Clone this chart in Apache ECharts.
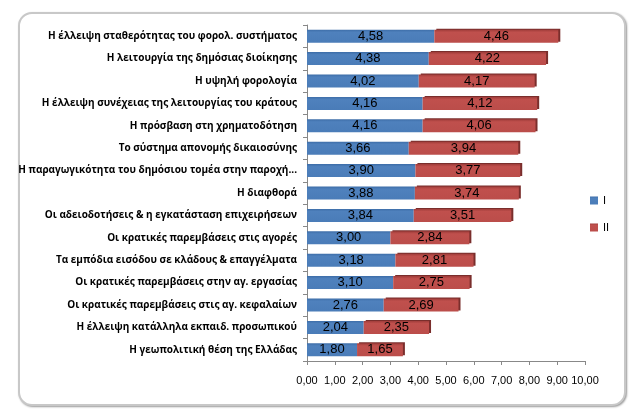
<!DOCTYPE html>
<html><head><meta charset="utf-8">
<script src="https://cdn.jsdelivr.net/npm/echarts@6/dist/echarts.min.js"></script>
<style>html,body{margin:0;padding:0;background:#fff}
#frame{position:absolute;left:18px;top:12px;width:604px;height:390px;border:2px solid #c8c8c8;border-radius:14px;box-shadow:1px 1px 2px #999;background:#fff}
#c{position:absolute;left:0;top:0;width:640px;height:417px}</style>
</head><body><div id="frame"></div><div id="c"></div>
<script>
const categories = [
 "Η έλλειψη σταθερότητας του φορολ. συστήματος",
 "Η λειτουργία της δημόσιας διοίκησης",
 "Η υψηλή φορολογία",
 "Η έλλειψη συνέχειας της λειτουργίας του κράτους",
 "Η πρόσβαση στη χρηματοδότηση",
 "Το σύστημα απονομής δικαιοσύνης",
 "Η παραγωγικότητα του δημόσιου τομέα στην παροχή...",
 "Η διαφθορά",
 "Οι αδειοδοτήσεις & η εγκατάσταση επιχειρήσεων",
 "Οι κρατικές παρεμβάσεις στις αγορές",
 "Τα εμπόδια εισόδου σε κλάδους & επαγγέλματα",
 "Οι κρατικές παρεμβάσεις στην αγ. εργασίας",
 "Οι κρατικές παρεμβάσεις στις αγ. κεφαλαίων",
 "Η έλλειψη κατάλληλα εκπαιδ. προσωπικού",
 "Η γεωπολιτική θέση της Ελλάδας"
];
const seriesI  = [4.58,4.38,4.02,4.16,4.16,3.66,3.90,3.88,3.84,3.00,3.18,3.10,2.76,2.04,1.80];
const seriesII = [4.46,4.22,4.17,4.12,4.06,3.94,3.77,3.74,3.51,2.84,2.81,2.75,2.69,2.35,1.65];
const fmt = v => v.toFixed(2).replace('.', ',');
const chart = echarts.init(document.getElementById('c'), null, {renderer:'canvas'});
const lbl = {show:true, position:'inside', color:'#000', fontSize:13, fontFamily:'Liberation Sans, Arial', formatter:p=>fmt(p.value)};
chart.setOption({
  animation:false,
  backgroundColor:'transparent',
  grid:{left:307, right:55, top:25, bottom:56, containLabel:false},
  legend:{orient:'vertical', left:585, top:190, itemWidth:8, itemHeight:8, itemGap:16,
    textStyle:{fontSize:11, color:'#000', fontFamily:'Liberation Sans, Arial'},
    data:['I','II'], icon:'rect'},
  xAxis:{type:'value', min:0, max:10, interval:1,
    axisLine:{show:true, lineStyle:{color:'#888'}}, axisTick:{show:true, length:4, lineStyle:{color:'#888'}},
    splitLine:{show:false},
    axisLabel:{color:'#000', fontSize:11, margin:14, fontFamily:'Liberation Sans, Arial', formatter:v=>fmt(v)}},
  yAxis:{type:'category', data:categories, inverse:true,
    axisLine:{show:true, lineStyle:{color:'#888'}}, axisTick:{show:true, length:4, lineStyle:{color:'#888'}},
    axisLabel:{color:'#000', fontSize:10, fontWeight:'bold', margin:10, fontFamily:'Open Sans, Liberation Sans'}},
  series:[
    {name:'I', type:'bar', stack:'s', data:seriesI, barWidth:13, label:lbl,
     itemStyle:{color:new echarts.graphic.LinearGradient(0,0,0,1,[{offset:0,color:'#3d6da8'},{offset:0.2,color:'#4F81BD'},{offset:1,color:'#4a7cb8'}])}},
    {name:'II', type:'bar', stack:'s', data:seriesII, barWidth:13, label:lbl,
     itemStyle:{color:new echarts.graphic.LinearGradient(0,0,0,1,[{offset:0,color:'#a03c3a'},{offset:0.2,color:'#C0504D'},{offset:1,color:'#bb4d4a'}]),
       borderColor:'#8c3533', borderWidth:0, shadowColor:'#7a2e2c', shadowOffsetX:2, shadowOffsetY:-1, shadowBlur:0}}
  ]
});
</script></body></html>
